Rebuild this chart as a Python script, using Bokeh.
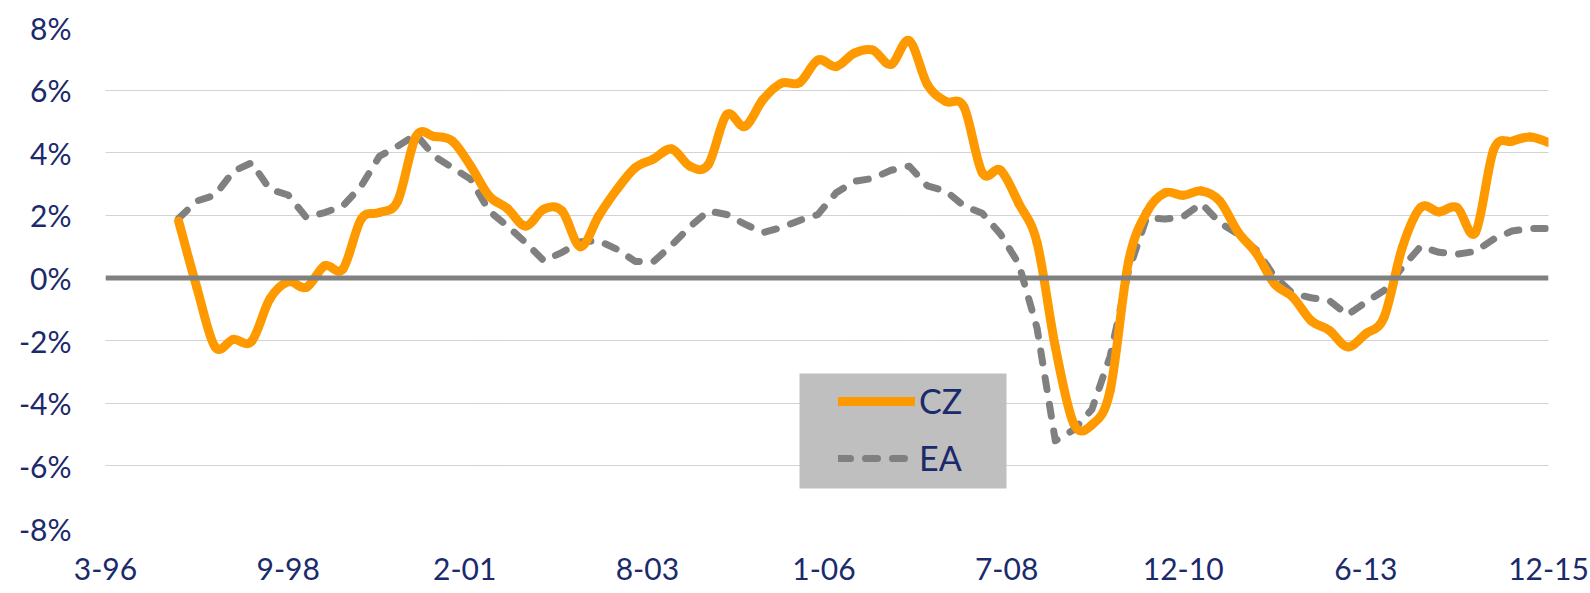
from bokeh.plotting import figure
from bokeh.models import (Range1d, FixedTicker, Span, Legend, LegendItem,
                          ColumnDataSource, BoxAnnotation)
from bokeh.embed import file_html
from bokeh.resources import INLINE

# Quarterly year-on-year growth (%), Q1 1997 .. Q4 2015
cz = [1.82, -0.30, -2.20, -1.96, -2.02, -0.67, -0.12, -0.30, 0.39, 0.29,
      1.88, 2.09, 2.46, 4.52, 4.52, 4.37, 3.57, 2.62, 2.22, 1.66,
      2.20, 2.14, 1.00, 1.98, 2.83, 3.52, 3.80, 4.12, 3.57, 3.62,
      5.21, 4.84, 5.70, 6.22, 6.24, 6.96, 6.75, 7.18, 7.28, 6.82,
      7.58, 6.17, 5.64, 5.46, 3.36, 3.44, 2.38, 1.13, -2.20, -4.64,
      -4.69, -3.60, 0.50, 2.09, 2.72, 2.64, 2.78, 2.46, 1.47, 0.79,
      -0.19, -0.61, -1.36, -1.67, -2.20, -1.78, -1.25, 0.98, 2.25, 2.11,
      2.25, 1.45, 4.10, 4.37, 4.50, 4.33]
ea = [1.90, 2.46, 2.64, 3.41, 3.68, 2.83, 2.65, 1.93, 2.09, 2.30,
      2.94, 3.89, 4.21, 4.58, 3.89, 3.52, 3.15, 2.14, 1.66, 1.13,
      0.55, 0.82, 1.16, 1.19, 0.92, 0.53, 0.52, 1.05, 1.64, 2.14,
      2.03, 1.72, 1.45, 1.61, 1.84, 2.03, 2.72, 3.09, 3.18, 3.44,
      3.57, 2.94, 2.78, 2.30, 2.07, 1.40, 0.45, -1.60, -5.20, -4.85,
      -4.20, -2.50, 0.20, 1.93, 1.88, 1.96, 2.38, 1.77, 1.40, 0.90,
      0.05, -0.50, -0.63, -0.72, -1.18, -0.77, -0.40, 0.34, 1.01, 0.82,
      0.76, 0.85, 1.24, 1.50, 1.58, 1.58]

# months since March 1996 (first observation March 1997, quarterly)
months = [12 + 3 * i for i in range(len(cz))]

tick_months = [0, 30, 59, 89, 118, 148, 177, 207, 237]
tick_labels = ["3-96", "9-98", "2-01", "8-03", "1-06", "7-08", "12-10", "6-13", "12-15"]
y_ticks = [-8, -6, -4, -2, 0, 2, 4, 6, 8]
y_labels = [f"{v}%" for v in y_ticks]

TEXT = "#1B2A6B"
FONT = "Lato"


def smooth_segments(xs, ys):
    """Catmull-Rom style Bezier control points through the observations."""
    n = len(xs)
    d = dict(x0=[], y0=[], x1=[], y1=[], cx0=[], cy0=[], cx1=[], cy1=[])
    for i in range(n - 1):
        im = max(i - 1, 0)
        ip = min(i + 2, n - 1)
        d["x0"].append(xs[i]); d["y0"].append(ys[i])
        d["x1"].append(xs[i + 1]); d["y1"].append(ys[i + 1])
        d["cx0"].append(xs[i] + (xs[i + 1] - xs[im]) / 6.0)
        d["cy0"].append(ys[i] + (ys[i + 1] - ys[im]) / 6.0)
        d["cx1"].append(xs[i + 1] - (xs[ip] - xs[i]) / 6.0)
        d["cy1"].append(ys[i + 1] - (ys[ip] - ys[i]) / 6.0)
    return ColumnDataSource(d)


p = figure(width=1590, height=593,
           x_range=Range1d(tick_months[0], tick_months[-1]),
           y_range=Range1d(y_ticks[0], y_ticks[-1]),
           output_backend="svg", toolbar_location=None,
           min_border_left=105, min_border_right=42,
           min_border_top=27, min_border_bottom=65)
p.outline_line_color = None
p.background_fill_color = "white"

# axes
p.xaxis.ticker = FixedTicker(ticks=tick_months)
p.xaxis.major_label_overrides = dict(zip(tick_months, tick_labels))
p.yaxis.ticker = FixedTicker(ticks=y_ticks)
p.yaxis.major_label_overrides = dict(zip(y_ticks, y_labels))
for ax in (p.xaxis, p.yaxis):
    ax.axis_line_color = None
    ax.major_tick_line_color = None
    ax.minor_tick_line_color = None
    ax.major_tick_in = 0
    ax.major_tick_out = 0
    ax.major_label_text_font = FONT
    ax.major_label_text_font_size = "30px"
    ax.major_label_text_color = TEXT
p.yaxis.major_label_standoff = 34
p.xaxis.major_label_standoff = 29

p.xgrid.grid_line_color = None
p.ygrid.ticker = FixedTicker(ticks=y_ticks)
p.ygrid.grid_line_color = "#A6A6A6"
p.ygrid.grid_line_dash = "1 1"
p.ygrid.grid_line_width = 1

p.add_layout(Span(location=0, dimension="width", line_color="#808080", line_width=5))

ea_r = p.line(months, ea, line_color="#808080", line_width=7,
              line_dash="12 15", line_cap="round", line_join="round")
cz_r = p.bezier(x0="x0", y0="y0", x1="x1", y1="y1", cx0="cx0", cy0="cy0",
                cx1="cx1", cy1="cy1", source=smooth_segments(months, cz),
                line_color="#FF9900", line_width=9, line_cap="round")

# legend background panel (canvas pixel units)
p.add_layout(BoxAnnotation(left=799, right=1006, top=373, bottom=488,
                           left_units="canvas", right_units="canvas",
                           top_units="canvas", bottom_units="canvas",
                           fill_color="#BFBFBF", fill_alpha=1.0,
                           line_color=None))

legend = Legend(items=[LegendItem(label="CZ", renderers=[cz_r]),
                       LegendItem(label="EA", renderers=[ea_r])],
                location=(733, 50))
legend.background_fill_alpha = 0.0
legend.border_line_color = None
legend.label_text_font = FONT
legend.label_text_font_size = "34px"
legend.label_text_color = TEXT
legend.glyph_width = 77
legend.glyph_height = 30
legend.label_height = 30
legend.label_width = 70
legend.label_standoff = 4
legend.spacing = 16
legend.padding = 0
legend.margin = 0
p.add_layout(legend)

open("out.html", "w").write(file_html(p, INLINE))
